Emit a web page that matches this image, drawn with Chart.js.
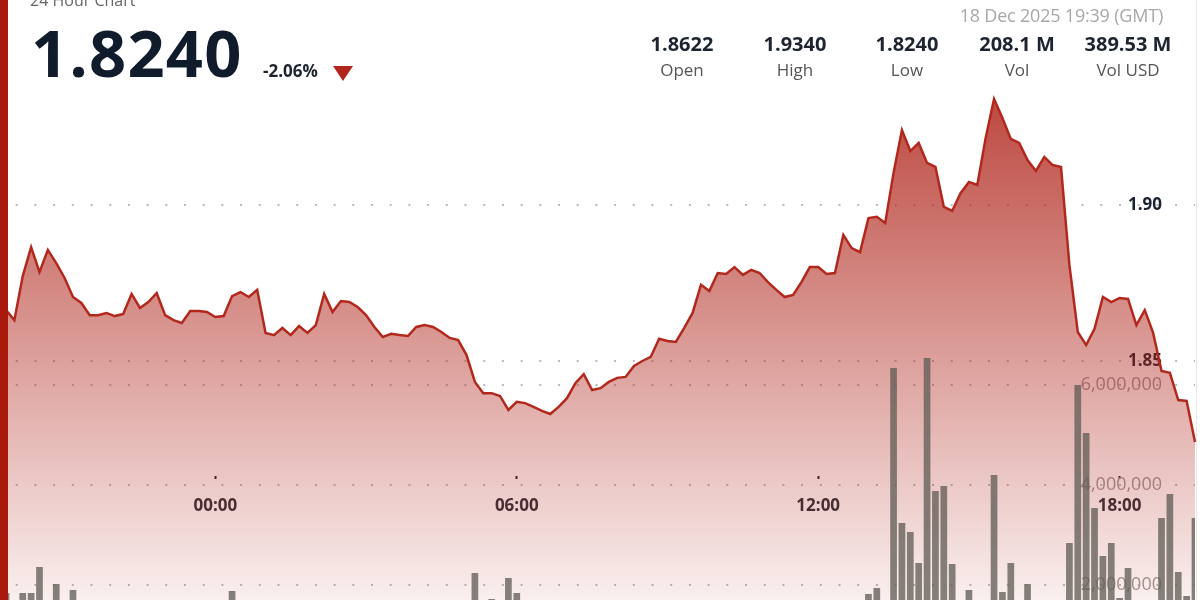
<!DOCTYPE html>
<html>
<head>
<meta charset="utf-8">
<title>24 Hour Chart</title>
<script src="https://cdn.jsdelivr.net/npm/chart.js@4.4.1/dist/chart.umd.min.js"></script>
<style>
  html, body { margin: 0; padding: 0; background: #fff; }
  body { position: relative; width: 1200px; height: 600px; overflow: hidden; font-family: "Open Sans", "Noto Sans", sans-serif; }
  #chart-wrap { position: absolute; left: 0; top: 0; width: 1200px; height: 600px; }
  .accent { position: absolute; left: 0; top: 0; width: 8px; height: 600px; background: #a91a0c; }
  .edge { position: absolute; left: 1196px; top: 0; width: 1px; height: 600px; background: #e6e6e6; }
  .title { position: absolute; left: 30px; top: -8px; font-size: 16px; line-height: 16px; color: #666; }
  .price { position: absolute; left: 31px; top: 20px; font-size: 65px; line-height: 65px; font-weight: 700; color: #101c2c; letter-spacing: 1.2px; }
  .change { position: absolute; left: 263px; top: 61px; font-size: 17px; line-height: 20px; font-weight: 700; color: #1d2430; letter-spacing: 0; }
  .arrow { position: absolute; left: 333px; top: 66px; width: 0; height: 0; border-left: 10px solid transparent; border-right: 10px solid transparent; border-top: 15px solid #b3261e; }
  .stamp { position: absolute; right: 37px; top: 4px; font-size: 18px; line-height: 22px; color: #a8a8a8; letter-spacing: -0.2px; }
  .stat { position: absolute; width: 120px; margin-left: -60px; text-align: center; }
  .stat b { display: block; font-size: 20px; line-height: 22px; color: #1d2430; margin-top: 33px; }
  .stat span { display: block; font-size: 17px; line-height: 20px; color: #555; margin-top: 5px; }
</style>
</head>
<body>
<div id="chart-wrap"><canvas id="price-chart"></canvas></div>
<div class="accent"></div>
<div class="edge"></div>
<div class="title">24 Hour Chart</div>
<div class="price">1.8240</div>
<div class="change">-2.06%</div>
<div class="arrow"></div>
<div class="stamp">18 Dec 2025 19:39 (GMT)</div>
<div class="stat" style="left:682px"><b>1.8622</b><span>Open</span></div>
<div class="stat" style="left:795px"><b>1.9340</b><span>High</span></div>
<div class="stat" style="left:907px"><b>1.8240</b><span>Low</span></div>
<div class="stat" style="left:1017px"><b>208.1 M</b><span>Vol</span></div>
<div class="stat" style="left:1128px"><b>389.53 M</b><span>Vol USD</span></div>

<script>
// 10-minute closes, 19:50 -> 19:30 next day
const prices = [
    1.8663, 1.8631, 1.8772, 1.8865, 1.8785, 1.8856, 1.8814, 1.8766, 1.8705, 1.8686, 1.8647, 1.8647,
    1.8654, 1.8644, 1.8651, 1.8715, 1.8670, 1.8689, 1.8718, 1.8647, 1.8631, 1.8622, 1.8660, 1.8660,
    1.8657, 1.8641, 1.8644, 1.8708, 1.8721, 1.8705, 1.8728, 1.8590, 1.8583, 1.8606, 1.8583, 1.8612,
    1.8590, 1.8615, 1.8715, 1.8657, 1.8692, 1.8689, 1.8673, 1.8647, 1.8609, 1.8577, 1.8587, 1.8583,
    1.8580, 1.8609, 1.8615, 1.8609, 1.8593, 1.8574, 1.8567, 1.8519, 1.8433, 1.8397, 1.8397, 1.8388,
    1.8343, 1.8369, 1.8365, 1.8353, 1.8340, 1.8330, 1.8353, 1.8381, 1.8429, 1.8458, 1.8407, 1.8413,
    1.8433, 1.8446, 1.8449, 1.8484, 1.8500, 1.8513, 1.8571, 1.8564, 1.8561, 1.8606, 1.8654, 1.8744,
    1.8724, 1.8782, 1.8779, 1.8801, 1.8776, 1.8792, 1.8782, 1.8753, 1.8728, 1.8705, 1.8712, 1.8753,
    1.8801, 1.8801, 1.8779, 1.8782, 1.8904, 1.8862, 1.8849, 1.8958, 1.8962, 1.8942, 1.9103, 1.9240,
    1.9173, 1.9199, 1.9135, 1.9122, 1.8994, 1.8981, 1.9038, 1.9074, 1.9064, 1.9215, 1.9340, 1.9279,
    1.9212, 1.9199, 1.9144, 1.9109, 1.9154, 1.9128, 1.9122, 1.8808, 1.8593, 1.8551, 1.8603, 1.8705,
    1.8689, 1.8702, 1.8699, 1.8615, 1.8663, 1.8590, 1.8468, 1.8462, 1.8375, 1.8372, 1.8240
];

const volumes = [
    1840000, 1150000, 1840000, 1840000, 2360000, 1250000, 2020000, 1100000, 1900000, 950000, 800000, 1000000,
    900000, 1200000, 850000, 1050000, 700000, 900000, 1100000, 800000, 950000, 1000000, 750000, 1150000,
    1000000, 850000, 1200000, 1880000, 900000, 800000, 1300000, 950000, 700000, 850000, 1000000, 900000,
    750000, 1100000, 1350000, 900000, 1000000, 800000, 850000, 950000, 1200000, 1000000, 900000, 800000,
    850000, 1000000, 900000, 750000, 1100000, 950000, 1200000, 1400000, 2240000, 1300000, 1720000, 1250000,
    2140000, 1840000, 1200000, 1000000, 950000, 1150000, 1050000, 1300000, 1350000, 1100000, 1000000, 900000,
    850000, 950000, 1000000, 1150000, 1050000, 900000, 1250000, 1000000, 950000, 1100000, 1300000, 1450000,
    1200000, 1350000, 1100000, 1000000, 950000, 900000, 1050000, 1150000, 1000000, 1100000, 950000, 1200000,
    1300000, 1150000, 1000000, 1250000, 1500000, 1350000, 1400000, 1820000, 1940000, 1550000, 6340000, 3240000,
    3060000, 2440000, 6540000, 3880000, 3980000, 2420000, 1500000, 1900000, 1450000, 1600000, 4200000, 1860000,
    2440000, 1550000, 2020000, 1400000, 1500000, 1350000, 1600000, 2840000, 6000000, 5040000, 3540000, 2580000,
    2840000, 1740000, 2340000, 1500000, 1400000, 1600000, 3340000, 3820000, 2260000, 1780000, 3340000
];

const hourTicks = ['00:00', '06:00', '12:00', '18:00'];
const priceTicks = [1.85, 1.90];
const volumeTicks = [2000000, 4000000, 6000000];

// time categories
const timeLabels = [];
for (let i = 0; i < prices.length; i++) {
    const m = (19 * 60 + 50 + i * 10) % 1440;
    timeLabels.push(String(Math.floor(m / 60)).padStart(2, '0') + ':' + String(m % 60).padStart(2, '0'));
}

const noPad = s => { s.paddingTop = 0; s.paddingBottom = 0; s.paddingLeft = 0; s.paddingRight = 0; };
const dotted = { color: 'rgba(140,140,140,0.6)', lineWidth: 2, drawTicks: false, borderDash: [2, 16.7], borderDashOffset: 9 };

const ctx = document.getElementById('price-chart').getContext('2d');

new Chart(ctx, {
    data: {
        labels: timeLabels,
        datasets: [{
            type: 'bar',
            label: 'Volume',
            data: volumes,
            yAxisID: 'vol',
            order: 0,
            backgroundColor: 'rgba(96,92,86,0.76)',
            barPercentage: 0.8,
            categoryPercentage: 1
        }, {
            type: 'line',
            label: 'Price',
            data: prices,
            yAxisID: 'y',
            order: 1,
            borderColor: '#b3281d',
            borderWidth: 2.5,
            pointRadius: 0,
            tension: 0,
            fill: 'start',
            backgroundColor: (c) => {
                const area = c.chart.chartArea;
                if (!area) return 'rgba(176,38,28,0.3)';
                const g = c.chart.ctx.createLinearGradient(0, 90, 0, area.bottom);
                g.addColorStop(0, 'rgba(176,38,28,0.85)');
                g.addColorStop(1, 'rgba(176,38,28,0.07)');
                return g;
            }
        }]
    },
    options: {
        responsive: true,
        maintainAspectRatio: false,
        animation: false,
        layout: { padding: { left: 6, right: 5, top: 0, bottom: 0 } },
        plugins: { legend: { display: false }, tooltip: { enabled: false } },
        scales: {
            x: {
                type: 'category',
                offset: false,
                position: { y: 1.8131 },
                grid: { display: true, offset: false, drawOnChartArea: false, drawTicks: true, tickLength: 3, tickWidth: 2, tickColor: '#222' },
                border: { display: false },
                ticks: {
                    autoSkip: false, maxRotation: 0, padding: 17, color: '#2b303b',
                    font: { family: 'Open Sans', size: 17, weight: 'bold' }
                },
                afterBuildTicks: s => { s.ticks = s.ticks.filter(t => hourTicks.includes(timeLabels[t.value])); },
                afterFit: noPad
            },
            y: {
                position: 'right',
                min: 1.773397,
                max: 1.965705,
                grid: dotted,
                border: { display: false, dash: [2, 16.7], dashOffset: 9 },
                ticks: {
                    mirror: true, padding: -33, color: '#1b2230',
                    font: { family: 'Open Sans', size: 17, weight: 'bold' },
                    callback: v => Number(v).toFixed(2)
                },
                afterBuildTicks: s => { s.ticks = priceTicks.map(v => ({ value: v })); },
                afterFit: s => { noPad(s); s.width = 0; }
            },
            vol: {
                position: 'right',
                min: 1700000,
                max: 13700000,
                grid: dotted,
                border: { display: false, dash: [2, 16.7], dashOffset: 9 },
                ticks: {
                    mirror: true, padding: -33, color: '#a09a98',
                    font: { family: 'Open Sans', size: 18 },
                    callback: v => Number(v).toLocaleString('en-US')
                },
                afterBuildTicks: s => { s.ticks = volumeTicks.map(v => ({ value: v })); },
                afterFit: s => { noPad(s); s.width = 0; }
            }
        }
    }
});
</script>
</body>
</html>
